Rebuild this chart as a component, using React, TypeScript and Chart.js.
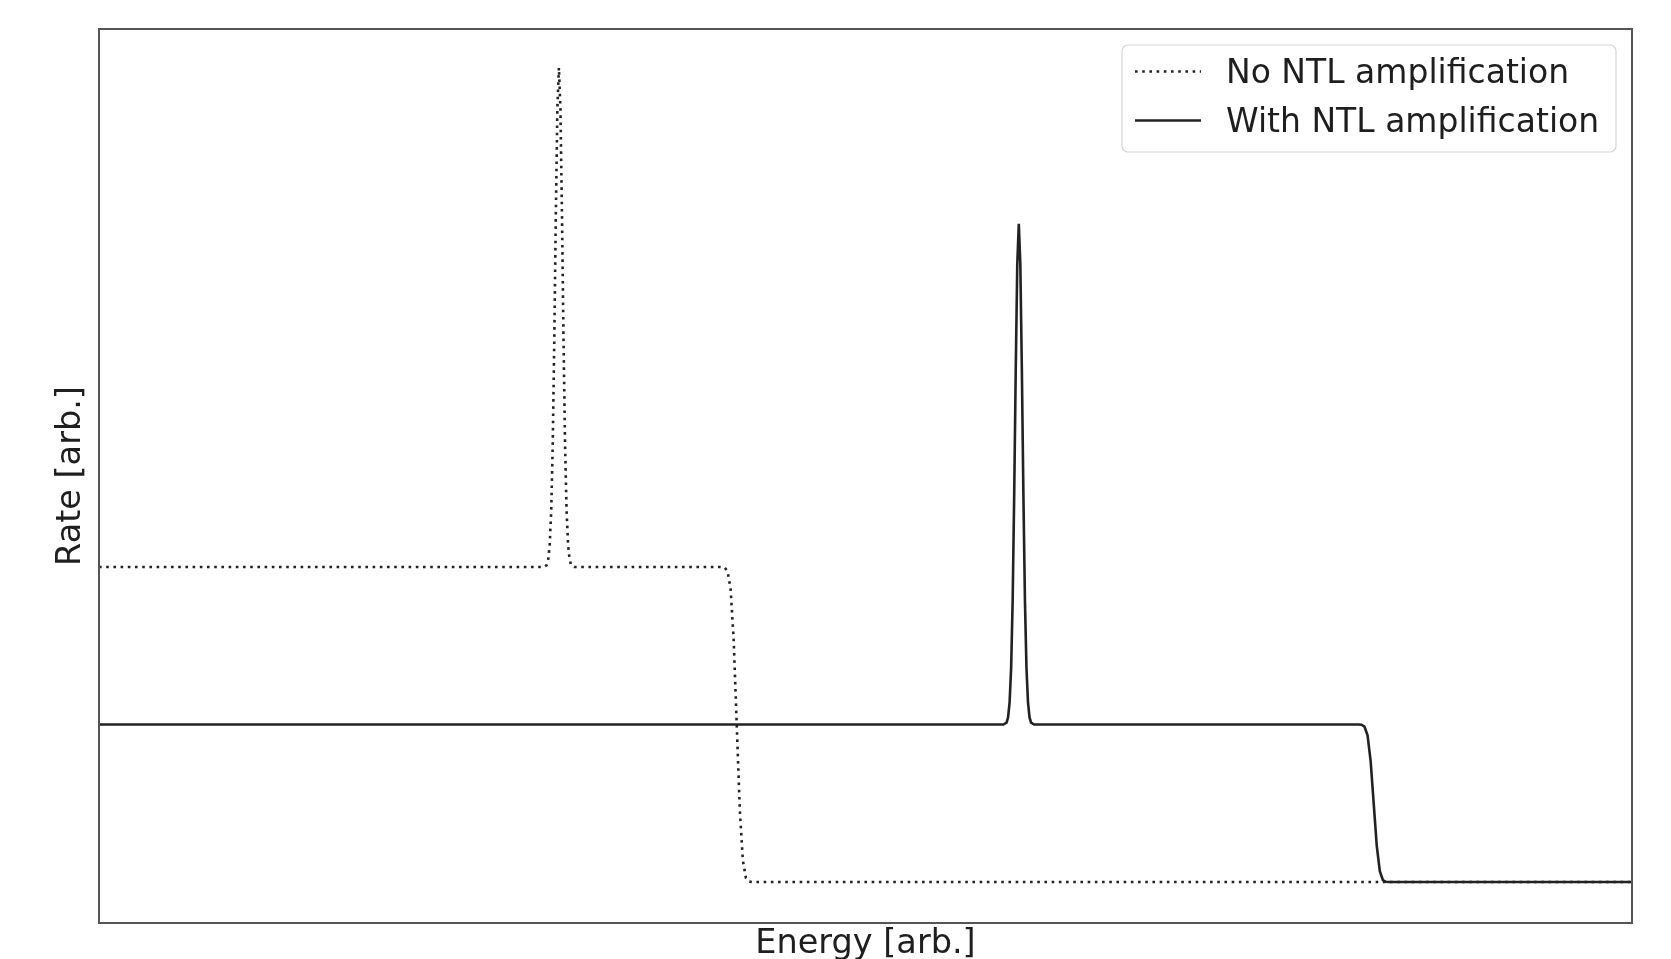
import React, { useEffect, useRef } from 'react';
import { Chart, registerables } from 'chart.js';

Chart.register(...registerables);

const X_TITLE = 'Energy [arb.]';
const Y_TITLE = 'Rate [arb.]';
const SERIES_LABELS = ['No NTL amplification', 'With NTL amplification'];

const X_MIN = 0;
const X_MAX = 100;
const Y_MIN = -0.26;
const Y_MAX = 5.416;

// "No NTL amplification" (dotted)
const noNtlEnergy = [
  0, 29.0, 29.2, 29.3, 29.4, 29.5, 29.6, 29.7, 29.8, 29.9, 30.0, 30.1, 30.2, 30.3, 30.4, 30.5,
  30.6, 30.7, 30.8, 31.0, 40.6, 40.8, 41.0, 41.2, 41.4, 41.6, 41.8, 42.0, 42.2, 42.4, 42.6, 100,
];
const noNtlRate = [
  2, 2, 2.012, 2.045, 2.14, 2.36, 2.79, 3.45, 4.24, 4.91, 5.17, 4.91, 4.24, 3.45, 2.79, 2.36,
  2.14, 2.045, 2.012, 2, 2, 1.998, 1.974, 1.862, 1.54, 1.0, 0.46, 0.138, 0.026, 0.003, 0, 0,
];

// "With NTL amplification" (solid)
const withNtlEnergy = [
  0, 59.0, 59.2, 59.3, 59.4, 59.5, 59.6, 59.7, 59.8, 59.9, 60.0, 60.1, 60.2, 60.3, 60.4, 60.5,
  60.6, 60.7, 60.8, 61.0, 82.15, 82.35, 82.55, 82.75, 82.95, 83.15, 83.35, 83.55, 83.75, 83.95, 84.15, 100,
];
const withNtlRate = [
  1, 1, 1.012, 1.045, 1.14, 1.36, 1.79, 2.46, 3.25, 3.92, 4.18, 3.92, 3.25, 2.46, 1.79, 1.36,
  1.14, 1.045, 1.012, 1, 1, 0.999, 0.987, 0.931, 0.77, 0.5, 0.23, 0.069, 0.013, 0.0015, 0, 0,
];

const FONT = '"DejaVu Sans", "Liberation Sans", sans-serif';
const LINE_COLOR = '#222222';

const framePlugin = {
  id: 'frame',
  afterDatasetsDraw(chart: any) {
    const { ctx, chartArea } = chart;
    ctx.save();
    ctx.strokeStyle = '#555555';
    ctx.lineWidth = 2;
    ctx.strokeRect(chartArea.left, chartArea.top, chartArea.right - chartArea.left, chartArea.bottom - chartArea.top);
    ctx.restore();
  },
};

const legendPlugin = {
  id: 'mplLegend',
  afterDraw(chart: any) {
    const { ctx } = chart;
    const x0 = 1122, y0 = 45, w = 494, h = 107, r = 6;
    ctx.save();
    ctx.beginPath();
    ctx.moveTo(x0 + r, y0);
    ctx.lineTo(x0 + w - r, y0);
    ctx.arcTo(x0 + w, y0, x0 + w, y0 + r, r);
    ctx.lineTo(x0 + w, y0 + h - r);
    ctx.arcTo(x0 + w, y0 + h, x0 + w - r, y0 + h, r);
    ctx.lineTo(x0 + r, y0 + h);
    ctx.arcTo(x0, y0 + h, x0, y0 + h - r, r);
    ctx.lineTo(x0, y0 + r);
    ctx.arcTo(x0, y0, x0 + r, y0, r);
    ctx.closePath();
    ctx.fillStyle = 'rgba(255,255,255,0.8)';
    ctx.fill();
    ctx.strokeStyle = '#d6d6d6';
    ctx.lineWidth = 1.2;
    ctx.stroke();

    const rows = [71.5, 120.5];
    chart.data.datasets.forEach((ds: any, i: number) => {
      const y = rows[i];
      ctx.beginPath();
      ctx.strokeStyle = ds.borderColor;
      ctx.lineWidth = ds.borderWidth;
      ctx.lineCap = 'butt';
      ctx.setLineDash(ds.borderDash || []);
      ctx.moveTo(1135, y);
      ctx.lineTo(1201, y);
      ctx.stroke();
      ctx.setLineDash([]);
      ctx.fillStyle = '#1e1e1e';
      ctx.font = `33px ${FONT}`;
      ctx.textBaseline = 'middle';
      ctx.textAlign = 'left';
      ctx.fillText(ds.label, 1226, y + 2.5);
    });
    ctx.restore();
  },
};

export default function App() {
  const ref = useRef<HTMLCanvasElement>(null);

  useEffect(() => {
    document.body.style.margin = '0';
    const canvas = ref.current;
    if (!canvas) return;
    const toPoints = (xs: number[], ys: number[]) => xs.map((x, i) => ({ x, y: ys[i] }));
    const chart = new Chart(canvas, {
      type: 'line',
      data: {
        datasets: [
          {
            label: SERIES_LABELS[0],
            data: toPoints(noNtlEnergy, noNtlRate),
            borderColor: LINE_COLOR,
            borderWidth: 2.6,
            borderDash: [2.6, 4.6],
            borderCapStyle: 'butt',
            pointRadius: 0,
            tension: 0,
            fill: false,
          },
          {
            label: SERIES_LABELS[1],
            data: toPoints(withNtlEnergy, withNtlRate),
            borderColor: LINE_COLOR,
            borderWidth: 2.6,
            pointRadius: 0,
            tension: 0,
            fill: false,
          },
        ],
      },
      options: {
        animation: false,
        responsive: false,
        devicePixelRatio: 1,
        parsing: false,
        layout: { padding: { top: 29, right: 39, bottom: 0, left: 0 } },
        plugins: {
          legend: { display: false },
          tooltip: { enabled: false },
        },
        scales: {
          x: {
            type: 'linear',
            min: X_MIN,
            max: X_MAX,
            ticks: { display: false },
            grid: { display: false, drawTicks: false },
            border: { display: false },
            title: {
              display: true,
              text: X_TITLE,
              color: '#1e1e1e',
              font: { family: FONT, size: 33.5 },
              padding: { top: 0, bottom: 15.4 },
            },
            afterFit: (s: any) => {
              s.height = 57;
            },
          },
          y: {
            type: 'linear',
            min: Y_MIN,
            max: Y_MAX,
            ticks: { display: false },
            grid: { display: false, drawTicks: false },
            border: { display: false },
            title: {
              display: true,
              text: Y_TITLE,
              color: '#1e1e1e',
              font: { family: FONT, size: 33.5 },
              padding: { top: 51.2, bottom: 0 },
            },
            afterFit: (s: any) => {
              s.width = 99;
            },
          },
        },
      },
      plugins: [framePlugin, legendPlugin],
    });
    return () => chart.destroy();
  }, []);

  return (
    <div style={{ width: 1671, height: 959, overflow: 'hidden', background: '#ffffff' }}>
      <canvas ref={ref} width={1671} height={980} style={{ display: 'block' }} />
    </div>
  );
}
